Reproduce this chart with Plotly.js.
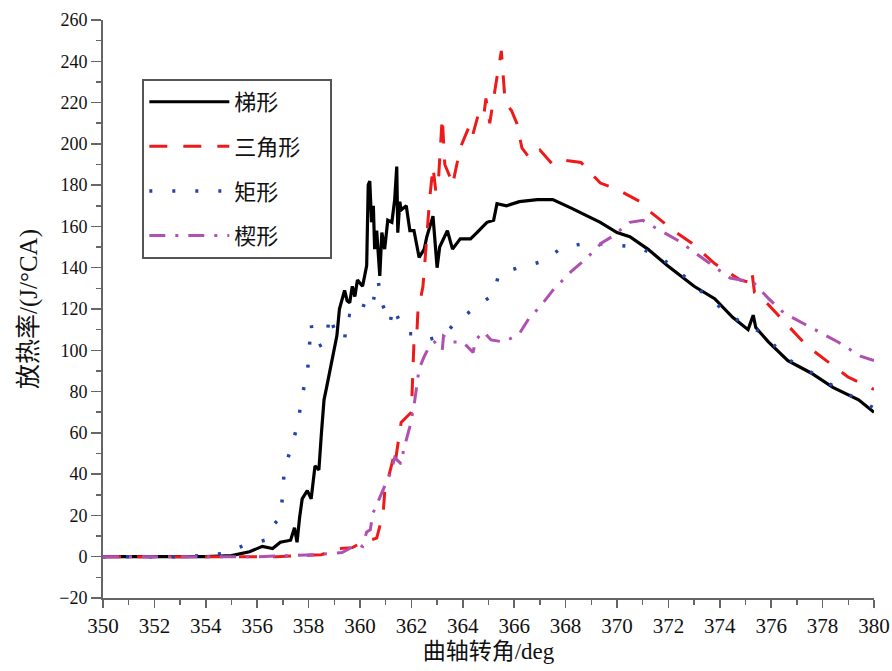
<!DOCTYPE html>
<html>
<head>
<meta charset="utf-8">
<script src="https://cdn.plot.ly/plotly-3.0.1.min.js"></script>
<style>html,body{margin:0;padding:0;background:#fff;}#chart{width:892px;height:671px;}</style>
</head>
<body>
<div id="chart"></div>
<script>
// ---- data ----
const seriesNames = ["梯形", "三角形", "矩形", "楔形"];

const trapX = [350,354,355,355.7,356.2,356.6,356.9,357.3,357.45,357.55,357.65,357.75,357.95,358.1,358.25,358.4,358.5,358.6,358.7,358.9,359.1,359.2,359.4,359.5,359.6,359.7,359.8,359.9,360.1,360.26,360.32,360.38,360.45,360.52,360.57,360.65,360.77,360.85,360.96,361.08,361.24,361.35,361.43,361.47,361.55,361.6,361.8,361.94,362.1,362.3,362.5,362.6,362.84,363.0,363.1,363.4,363.6,363.9,364.3,364.55,364.94,365.2,365.33,365.7,366.2,366.9,367.5,368.2,368.85,369.35,370.0,370.5,371.2,371.97,373.0,373.8,374.5,375.1,375.3,375.4,375.9,376.65,377.55,378.4,379.4,380];
const trapY = [0,0,0.5,2.4,5,4,7,8,14,7,19,28,32,28,44,42,60,76,82,94,107,120,129,124,123,131,126,134,131,141,180,182,162,170,149,158,136,157,149,163,162,173,189,157,172,168,170,158,158,145,149,155,165,140,150,158,149,154,154,157,162,163,171,170,172,173,173,169,165,162,157,155,149,141,131,125,116,110,117,111,104,95,89,82,76,70];

const triX = [350,356.75,358.5,359.2,359.7,360.1,360.65,360.9,360.96,361.3,361.35,361.6,362.0,362.02,362.06,362.1,362.2,362.25,362.45,362.6,362.7,362.84,362.95,363.05,363.2,363.3,363.5,363.6,363.9,364.3,364.4,364.6,364.8,364.9,365.05,365.3,365.5,365.65,365.9,366.1,366.3,366.6,367.0,367.5,368.0,368.6,369.35,370.0,370.9,371.3,372.2,372.9,373.8,374.8,375.15,375.25,375.35,375.9,377.4,379.0,380];
const triY = [0,0,1,4,4.4,7,9,21,31,48,44,65,70,82,91,104,105,118,131,155,172,189,177,182,213,190,184,180,198,210,205,214,212,222,210,230,245,220,216,210,198,193,197,190,192,191,181,178,172,167,158,152,142,134,133,138,128,122,102,87,81];

const rectX = [350,353,353.75,354.7,355.6,356.3,356.6,356.9,357.0,357.05,357.3,357.6,357.65,357.75,357.96,358.04,358.1,358.15,358.4,358.7,358.8,359.1,359.4,359.5,360.0,360.25,360.5,360.7,360.85,361.16,361.3,361.67,361.8,362.2,362.6,363.2,363.7,364.5,365.2,365.4,366.15,367.1,367.9,368.9,369.8,370.8,371.7,372.7,373.6,374.5,375.7,376.6,377.6,378.5,379.4,380];
const rectY = [0,0,0.5,1.5,6,8,15,19,31,42,52,65,70,78,90,102,113,107,102,104,117,107,105,117,116,126,123,134,123,113,121,110,108,108,105,107,113,121,127,137,140,143,150,152,151,150,145,135,125,116,108,96,89,82,76,72];

const wedgeX = [350,356,358.3,359.3,359.9,360.1,360.26,360.4,360.5,360.9,361.2,361.35,361.6,361.7,361.86,361.94,362.1,362.2,362.3,362.5,362.7,362.9,363.2,363.25,363.6,364.0,364.4,364.5,364.8,365.1,365.6,366.2,366.6,367.0,367.5,368.2,368.85,369.4,369.8,370.5,371.0,371.4,372.4,373.4,374.4,375.3,375.9,376.5,377.7,378.6,379.5,380];
const wedgeY = [0,0,1,2,6,5,12,13,21,32,41,48,45,52,60,63,73,82,91,97,102,104,100,107,104,104,99,105,109,105,104,108,116,121,129,138,145,152,155,162,163,160,153,144,135,133,125,118,110,104,97,95];

const xTickVals = [350,352,354,356,358,360,362,364,366,368,370,372,374,376,378,380];
const yTickVals = [-20,0,20,40,60,80,100,120,140,160,180,200,220,240,260];

// ---- chart ----
const serif = "Liberation Serif, 'Times New Roman', 'Noto Sans CJK SC', serif";
const axisColor = "#666";
const pad = "\u00a0\u00a0\u00a0\u00a0\u00a0";

const traces = [
  {x: trapX, y: trapY, name: seriesNames[0], legendgroup: "a", mode: "lines",
   line: {color: "#000000", width: 3.2}},
  {x: triX, y: triY, name: seriesNames[1] + pad, legendgroup: "b", mode: "lines",
   line: {color: "#ee1a1a", width: 3, dash: "18px,16px"}},
  {x: rectX, y: rectY, name: seriesNames[2], legendgroup: "c", mode: "lines",
   line: {color: "#2244aa", width: 3.5, dash: "3px,20px"}},
  {x: wedgeX, y: wedgeY, name: seriesNames[3], legendgroup: "d", mode: "lines",
   line: {color: "#b050b0", width: 3, dash: "16px,10px,3px,10px"}}
];

const layout = {
  width: 892, height: 671,
  margin: {l: 103, r: 18, t: 20, b: 73},
  paper_bgcolor: "#fff", plot_bgcolor: "#fff",
  showlegend: true,
  legend: {
    x: 0.051, y: 0.898, xanchor: "left", yanchor: "top",
    bordercolor: "#555", borderwidth: 2, bgcolor: "#fff",
    font: {family: "'Noto Sans CJK SC', sans-serif", size: 22, color: "#111"},
    itemwidth: 80, tracegroupgap: 13, traceorder: "grouped"
  },
  xaxis: {
    range: [350, 380], tickmode: "array", tickvals: xTickVals,
    ticks: "outside", ticklen: 8, tickwidth: 1.5, tickcolor: axisColor,
    minor: {dtick: 1, ticklen: 5, tickwidth: 1.5, tickcolor: axisColor, ticks: "outside"},
    showline: true, linecolor: axisColor, linewidth: 2, mirror: false,
    showgrid: false, zeroline: false,
    tickfont: {family: serif, size: 21, color: "#111"},
    title: {text: "曲轴转角/deg", font: {family: serif, size: 23, color: "#111"}, standoff: 6}
  },
  yaxis: {
    range: [-20, 260], tickmode: "array", tickvals: yTickVals,
    ticks: "outside", ticklen: 10, tickwidth: 1.5, tickcolor: axisColor,
    minor: {dtick: 10, ticklen: 5, tickwidth: 1.5, tickcolor: axisColor, ticks: "outside"},
    showline: true, linecolor: axisColor, linewidth: 2, mirror: false,
    showgrid: false, zeroline: false,
    tickfont: {family: serif, size: 18, color: "#111"},
    title: {text: "放热率/(J/°CA)", font: {family: serif, size: 25, color: "#111"}, standoff: 14}
  }
};

Plotly.newPlot("chart", traces, layout, {displayModeBar: false, staticPlot: true});
</script>
</body>
</html>
